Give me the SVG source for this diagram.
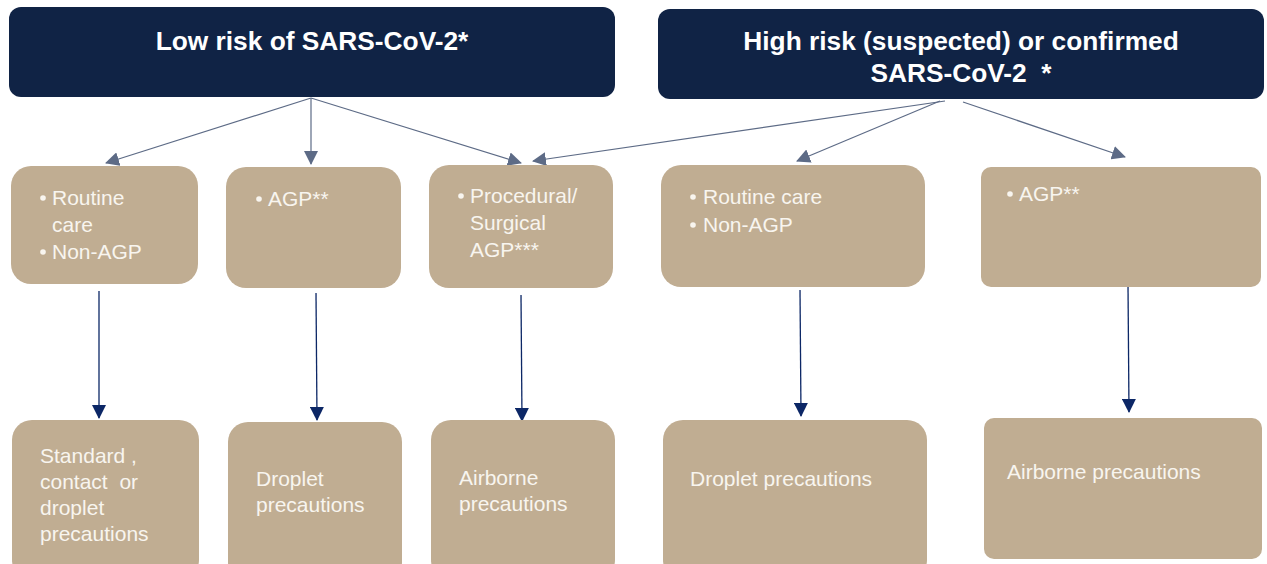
<svg xmlns="http://www.w3.org/2000/svg" width="1267" height="564" viewBox="0 0 1267 564">
<style>
.hdr{fill:#102345}
.box{fill:#c0ad92}
.ht{font-family:"Liberation Sans",Arial,sans-serif;font-weight:bold;font-size:26.3px;fill:#ffffff;text-anchor:middle}
.t{font-family:"Liberation Sans",Arial,sans-serif;font-size:21px;fill:#f8f5ef}
.b{fill:#f8f5ef}
.c1{stroke:#5d6b86;stroke-width:1.2;fill:none}
.c2{stroke:#0c2766;stroke-width:1.3;fill:none}
</style>
<defs>
<marker id="ag" viewBox="0 0 14 14" refX="13" refY="7" markerWidth="14" markerHeight="14" markerUnits="userSpaceOnUse" orient="auto"><path d="M0,0 L14,7 L0,14 Z" fill="#5d6b86"/></marker>
<marker id="an" viewBox="0 0 14 14" refX="13" refY="7" markerWidth="14" markerHeight="14" markerUnits="userSpaceOnUse" orient="auto"><path d="M0,0 L14,7 L0,14 Z" fill="#0c2766"/></marker>
</defs>
<g id="connectors">
<line class="c1" x1="311" y1="98" x2="106" y2="163" marker-end="url(#ag)"/>
<line class="c1" x1="311" y1="98" x2="311" y2="164" marker-end="url(#ag)"/>
<line class="c1" x1="311" y1="98" x2="521" y2="163" marker-end="url(#ag)"/>
<line class="c1" x1="945" y1="101" x2="533" y2="161" marker-end="url(#ag)"/>
<line class="c1" x1="940" y1="101" x2="797" y2="161" marker-end="url(#ag)"/>
<line class="c1" x1="963" y1="102" x2="1125" y2="157" marker-end="url(#ag)"/>
<line class="c2" x1="99" y1="291" x2="99" y2="418" marker-end="url(#an)"/>
<line class="c2" x1="316" y1="293" x2="317" y2="420" marker-end="url(#an)"/>
<line class="c2" x1="521" y1="295" x2="522" y2="421" marker-end="url(#an)"/>
<line class="c2" x1="800" y1="290" x2="801" y2="416" marker-end="url(#an)"/>
<line class="c2" x1="1128" y1="285" x2="1129" y2="412" marker-end="url(#an)"/>
</g>
<g id="low-risk">
<rect class="hdr" x="9" y="7" width="606" height="90" rx="12"/>
<text class="ht" x="312" y="50">Low risk of SARS-CoV-2*</text>
</g>
<g id="high-risk">
<rect class="hdr" x="658" y="9" width="606" height="90" rx="12"/>
<text class="ht" x="961" y="50">High risk (suspected) or confirmed</text>
<text class="ht" x="961" y="82" xml:space="preserve">SARS-CoV-2  *</text>
</g>
<g id="low-routine">
<rect class="box" x="11" y="166" width="187" height="118" rx="20"/>
<circle class="b" cx="43" cy="198" r="2.8"/>
<text class="t" x="52" y="205">Routine</text>
<text class="t" x="52" y="232">care</text>
<circle class="b" cx="43" cy="252" r="2.8"/>
<text class="t" x="52" y="259">Non-AGP</text>
</g>
<g id="low-agp">
<rect class="box" x="226" y="167" width="175" height="121" rx="20"/>
<circle class="b" cx="259" cy="199" r="2.8"/>
<text class="t" x="268" y="206">AGP**</text>
</g>
<g id="low-surgical">
<rect class="box" x="429" y="165" width="184" height="123" rx="20"/>
<circle class="b" cx="461" cy="196" r="2.8"/>
<text class="t" x="470" y="203">Procedural/</text>
<text class="t" x="470" y="230">Surgical</text>
<text class="t" x="470" y="257">AGP***</text>
</g>
<g id="high-routine">
<rect class="box" x="661" y="165" width="264" height="122" rx="20"/>
<circle class="b" cx="693" cy="197" r="2.8"/>
<text class="t" x="703" y="204">Routine care</text>
<circle class="b" cx="693" cy="225" r="2.8"/>
<text class="t" x="703" y="232">Non-AGP</text>
</g>
<g id="high-agp">
<rect class="box" x="981" y="167" width="280" height="120" rx="10"/>
<circle class="b" cx="1010" cy="194" r="2.8"/>
<text class="t" x="1019" y="201">AGP**</text>
</g>
<g id="standard">
<rect class="box" x="12" y="420" width="187" height="160" rx="20"/>
<text class="t" x="40" y="463" xml:space="preserve">Standard ,</text>
<text class="t" x="40" y="489" xml:space="preserve">contact  or</text>
<text class="t" x="40" y="515">droplet</text>
<text class="t" x="40" y="541">precautions</text>
</g>
<g id="droplet-low">
<rect class="box" x="228" y="422" width="174" height="160" rx="20"/>
<text class="t" x="256" y="486">Droplet</text>
<text class="t" x="256" y="512">precautions</text>
</g>
<g id="airborne-low">
<rect class="box" x="431" y="420" width="184" height="160" rx="20"/>
<text class="t" x="459" y="485">Airborne</text>
<text class="t" x="459" y="511">precautions</text>
</g>
<g id="droplet-high">
<rect class="box" x="663" y="420" width="264" height="160" rx="20"/>
<text class="t" x="690" y="486">Droplet precautions</text>
</g>
<g id="airborne-high">
<rect class="box" x="984" y="418" width="278" height="141" rx="10"/>
<text class="t" x="1007" y="479">Airborne precautions</text>
</g>
</svg>
